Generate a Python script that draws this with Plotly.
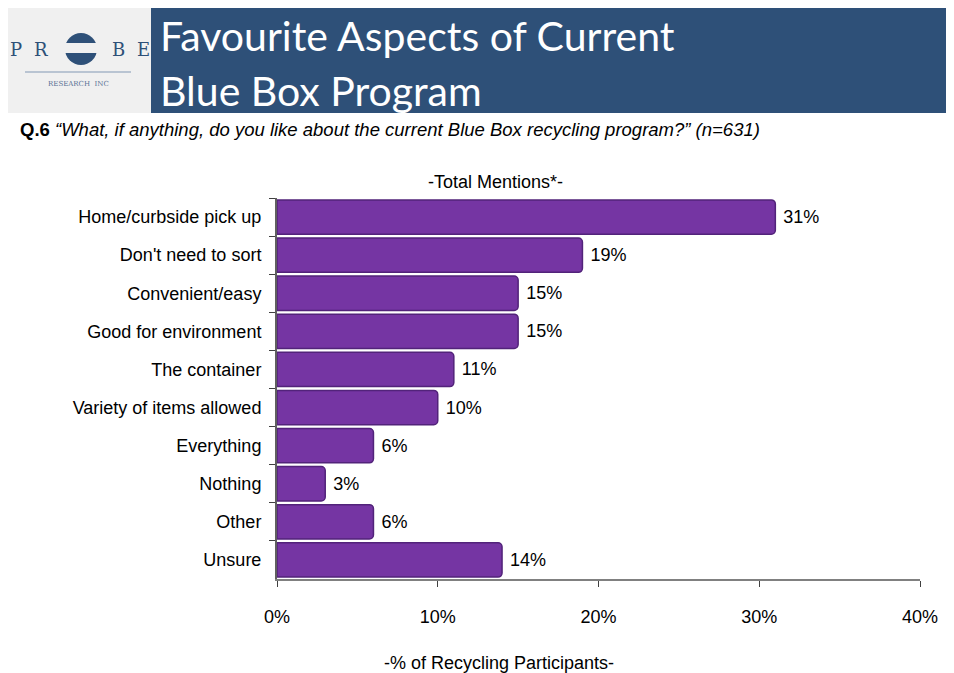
import plotly.graph_objects as go

categories = ["Home/curbside pick up", "Don't need to sort", "Convenient/easy",
              "Good for environment", "The container", "Variety of items allowed",
              "Everything", "Nothing", "Other", "Unsure"]
values = [31, 19, 15, 15, 11, 10, 6, 3, 6, 14]
tick_vals = [0, 10, 20, 30, 40]
tick_text = ["0%", "10%", "20%", "30%", "40%"]

OFF = 8                 # page body margin
W, H = 954 - OFF, 673 - OFF
X0, X1 = 277, 920       # plot area bounds in page pixels
Y0, Y1 = 198, 579

def px(x):
    return (x - X0) / (X1 - X0)

def py(y):
    return (Y1 - y) / (Y1 - Y0)

FONT = "Liberation Sans, Arial"

fig = go.Figure()
fig.add_trace(go.Bar(
    x=values, y=categories, orientation="h",
    marker=dict(color="#7535A3", line=dict(color="#52237A", width=1.5), cornerradius=4),
    width=0.9,
    text=[f" {v}%" for v in values], textposition="outside",
    textfont=dict(family=FONT, size=18, color="#000000"),
    cliponaxis=False,
    hoverinfo="skip",
))

BLUE = "#2E5078"
shapes = [
    dict(type="rect", xref="paper", yref="paper", x0=px(8), x1=px(151), y0=py(113), y1=py(7),
         fillcolor="#F0F0F0", line=dict(width=0), layer="below"),
    dict(type="rect", xref="paper", yref="paper", x0=px(151), x1=px(954), y0=py(113), y1=py(7),
         fillcolor=BLUE, line=dict(width=0), layer="below"),
    dict(type="circle", xref="paper", yref="paper", x0=px(65), x1=px(97), y0=py(65), y1=py(33),
         fillcolor=BLUE, line=dict(width=0)),
    dict(type="rect", xref="paper", yref="paper", x0=px(63), x1=px(99), y0=py(53), y1=py(43),
         fillcolor="#F0F0F0", line=dict(width=0)),
    dict(type="line", xref="paper", yref="paper", x0=px(25), x1=px(131), y0=py(72), y1=py(72),
         line=dict(color="#B9C4D2", width=2)),
]

annotations = []
for letter, lx in [("P", 16), ("R", 41), ("B", 118), ("E", 143)]:
    annotations.append(dict(text=letter, x=px(lx), y=py(49), xref="paper", yref="paper",
                            xanchor="center", yanchor="middle", showarrow=False,
                            font=dict(family="DejaVu Serif", size=18, color=BLUE)))
annotations += [
    dict(text="RESEARCH  INC", x=px(78), y=py(84), xref="paper", yref="paper", xanchor="center", yanchor="middle",
         showarrow=False, font=dict(family="DejaVu Serif", size=7, color="#5C7396")),
    dict(text="Favourite Aspects of Current", x=px(158), y=py(35), xref="paper", yref="paper",
         xanchor="left", yanchor="middle", showarrow=False,
         font=dict(family="Lato", size=41, color="#FFFFFF")),
    dict(text="Blue Box Program", x=px(158), y=py(90), xref="paper", yref="paper",
         xanchor="left", yanchor="middle", showarrow=False,
         font=dict(family="Lato", size=41, color="#FFFFFF")),
    dict(text="<b>Q.6</b> <i>\u201cWhat, if anything, do you like about the current Blue Box recycling program?\u201d (n=631)</i>",
         x=px(18), y=py(130), xref="paper", yref="paper", xanchor="left", yanchor="middle",
         showarrow=False, font=dict(family=FONT, size=18.5, color="#000000")),
    dict(text="-Total Mentions*-", x=px(495), y=py(182), xref="paper", yref="paper",
         xanchor="center", yanchor="middle", showarrow=False,
         font=dict(family=FONT, size=18, color="#000000")),
    dict(text="-% of Recycling Participants-", x=px(499), y=py(663), xref="paper", yref="paper",
         xanchor="center", yanchor="middle", showarrow=False,
         font=dict(family=FONT, size=18, color="#000000")),
]

fig.update_layout(
    width=W, height=H,
    margin=dict(l=X0 - OFF, r=954 - X1, t=Y0 - OFF, b=673 - Y1, pad=0),
    paper_bgcolor="#FFFFFF", plot_bgcolor="#FFFFFF",
    showlegend=False,
    shapes=shapes, annotations=annotations,
    xaxis=dict(range=[0, 40], tickvals=tick_vals, ticktext=tick_text,
               showgrid=False, zeroline=False, showline=True, linecolor="#808080", linewidth=2,
               ticks="outside", ticklen=6, tickcolor="#404040", ticklabelstandoff=14,
               tickfont=dict(family=FONT, size=18, color="#000000")),
    yaxis=dict(autorange="reversed", showgrid=False, zeroline=False, showline=True,
               linecolor="#606060", linewidth=2, ticks="outside", ticklen=6, tickcolor="#404040",
               tickson="boundaries", ticklabelstandoff=10,
               tickfont=dict(family=FONT, size=18, color="#000000")),
    bargap=0.1,
)

fig.write_html("out.html")
